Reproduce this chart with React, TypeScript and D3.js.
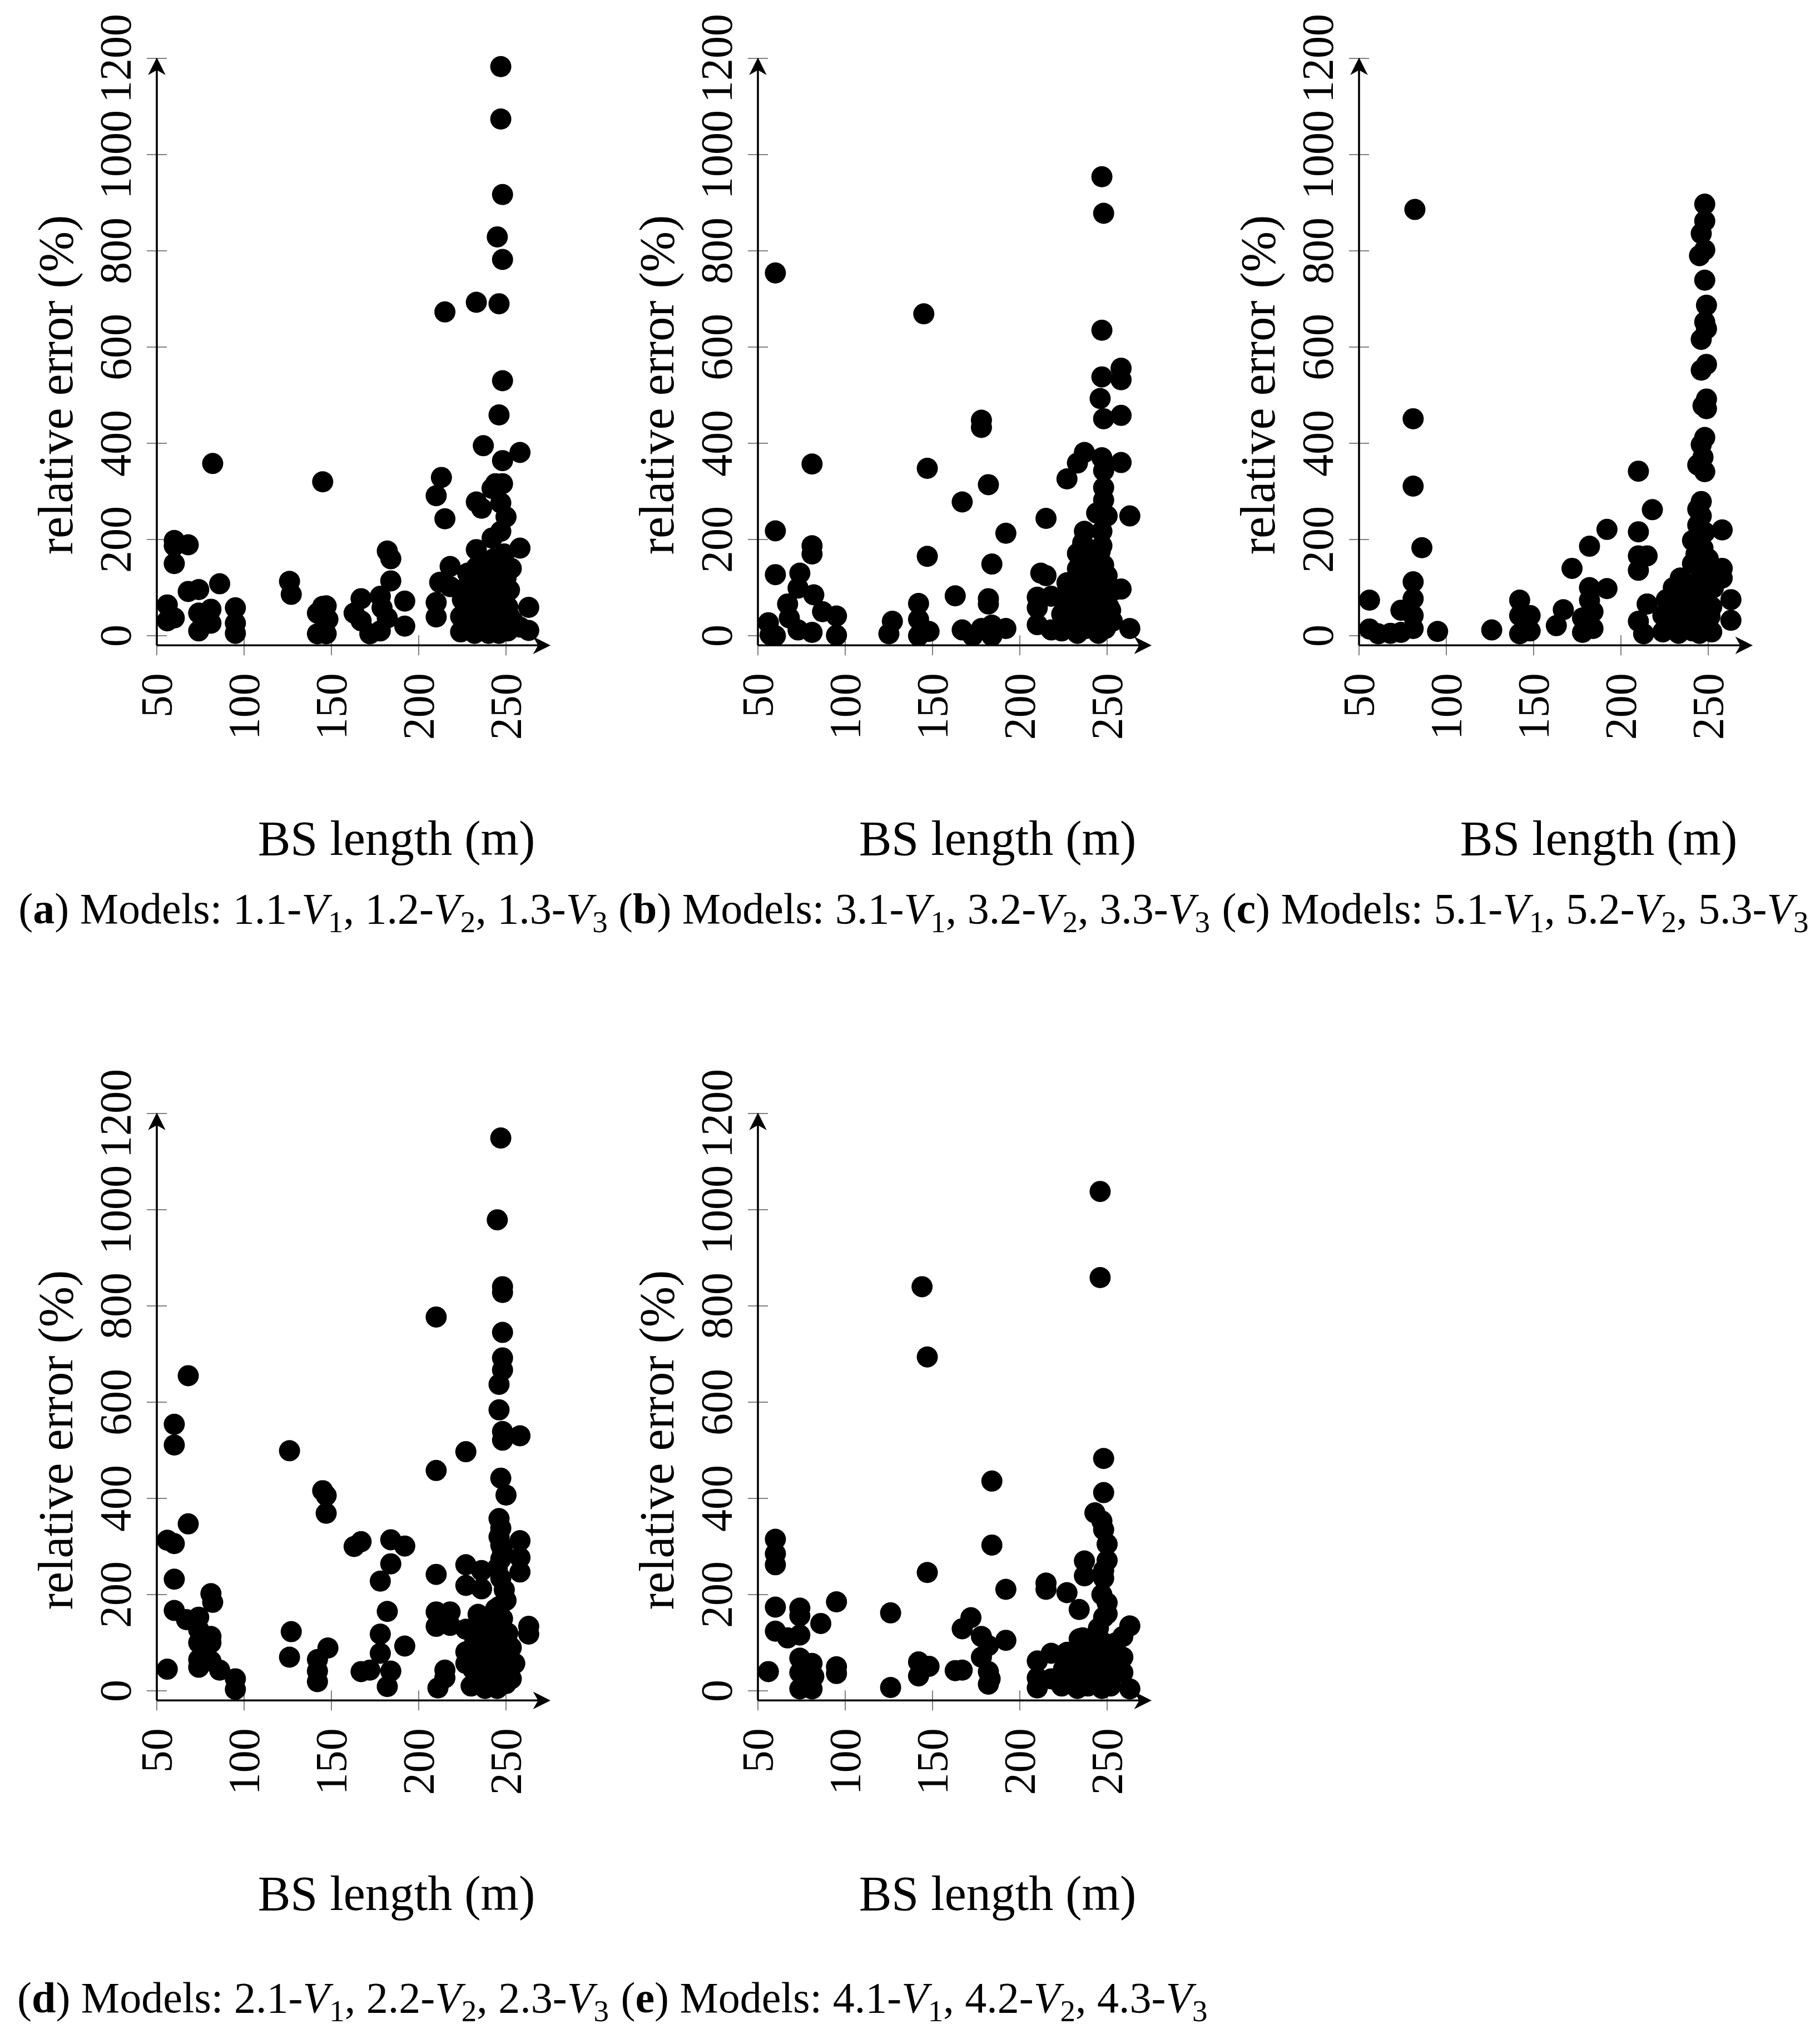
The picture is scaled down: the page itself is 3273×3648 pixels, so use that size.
import * as d3 from 'd3'

type Pt = [number, number]

const X_TICKS = [50, 100, 150, 200, 250]
const Y_TICKS = [0, 200, 400, 600, 800, 1000, 1200]
const X_LABEL = 'BS length (m)'
const Y_LABEL = 'relative error (%)'
const FONT = '"Liberation Serif", "Times New Roman", serif'

// (a) models 1.x
const panelA: Pt[] = [
  [247, 1183], [247, 1074], [248, 917], [245, 829], [248, 782], [233, 693], [246, 690], [215, 673],
  [248, 530], [246, 459], [237, 395], [258, 381], [248, 364], [82, 358], [145, 320], [213, 329],
  [210, 291], [244, 316], [248, 316], [242, 306], [233, 278], [236, 265], [247, 276], [250, 247],
  [215, 243], [242, 203], [247, 217], [258, 182], [60, 198], [60, 187], [60, 150], [68, 189],
  [182, 176], [184, 160], [218, 144], [233, 179], [233, 142], [126, 113], [127, 86], [86, 108],
  [68, 92], [74, 96], [212, 111], [218, 102], [184, 114], [178, 82], [167, 77], [192, 72],
  [56, 64], [56, 31], [60, 37], [81, 55], [81, 26], [74, 10], [74, 47], [95, 58], [95, 26], [95, 5],
  [145, 61], [147, 62], [148, 34], [147, 4], [142, 4], [142, 47], [163, 47], [167, 31], [172, 4],
  [178, 10], [182, 37], [192, 20], [179, 58], [210, 69], [210, 39], [263, 59], [263, 11], [258, 18],
  [224, 8], [224, 40], [225, 75], [228, 20], [229, 55], [230, 90], [232, 5], [233, 115], [234, 35],
  [235, 70], [236, 150], [238, 12], [238, 100], [239, 50], [240, 130], [241, 80], [242, 25],
  [243, 160], [244, 110], [245, 55], [246, 5], [246, 140], [247, 85], [248, 35], [249, 170],
  [250, 120], [251, 60], [251, 10], [252, 95], [253, 140], [254, 30],
  [227, 100], [231, 30], [237, 125], [240, 5], [243, 65], [249, 145], [252, 40], [228, 130],
]

// (b) models 3.x
const panelB: Pt[] = [
  [247, 954], [248, 878], [60, 754], [145, 669], [247, 635], [258, 556], [258, 532], [247, 538],
  [246, 493], [258, 458], [248, 451], [178, 448], [178, 433], [81, 357], [147, 348], [237, 381],
  [233, 359], [227, 326], [247, 370], [248, 343], [258, 360], [182, 314], [167, 278], [248, 308],
  [248, 282], [244, 255], [250, 249], [263, 249], [215, 244], [60, 218], [192, 213], [237, 217],
  [247, 217], [247, 187], [233, 171], [236, 193], [81, 187], [81, 170], [147, 165], [184, 149],
  [60, 127], [74, 130], [212, 130], [215, 125], [233, 139], [246, 150], [248, 147],
  [73, 99], [67, 66], [82, 85], [87, 50], [95, 41], [95, 1], [73, 12], [81, 7], [68, 37], [56, 27],
  [57, 2], [60, 0], [163, 83], [182, 77], [182, 66], [142, 67], [142, 34], [142, 0], [148, 9],
  [127, 30], [125, 4], [167, 12], [173, 0], [178, 15], [184, 22], [192, 15], [184, 0], [210, 80],
  [218, 82], [210, 23], [218, 12], [210, 58], [258, 97], [252, 53], [263, 15],
  [224, 10], [224, 45], [226, 80], [228, 25], [230, 60], [231, 105], [233, 5], [234, 40],
  [235, 120], [236, 85], [238, 15], [239, 55], [240, 100], [242, 30], [243, 130], [244, 70],
  [245, 5], [246, 110], [247, 40], [248, 90], [249, 15], [250, 125], [251, 60], [253, 30], [254, 95],
  [227, 110], [233, 70], [238, 160], [241, 75], [246, 175], [250, 30],
]

// (c) models 5.x
const panelC: Pt[] = [
  [82, 886], [248, 897], [248, 862], [246, 836], [248, 802], [245, 790], [248, 739], [249, 687],
  [248, 652], [249, 638], [246, 616], [249, 564], [246, 552], [249, 492], [247, 478], [249, 472],
  [248, 412], [81, 451], [246, 397], [247, 371], [244, 355], [248, 341], [210, 342], [81, 311],
  [246, 279], [246, 249], [244, 263], [218, 262], [192, 221], [210, 216], [258, 220], [182, 186],
  [86, 183], [241, 198], [247, 182], [210, 166], [215, 166], [210, 136], [172, 140], [258, 140],
  [258, 120], [241, 150], [235, 115], [81, 112], [182, 100], [192, 98], [56, 74], [81, 77],
  [74, 53], [81, 42], [81, 15], [74, 7], [142, 74], [142, 42], [148, 42], [148, 10], [142, 4],
  [167, 54], [163, 21], [182, 74], [184, 50], [178, 37], [178, 7], [184, 15], [215, 66], [210, 30],
  [213, 4], [263, 75], [263, 32], [56, 14], [61, 4], [68, 5], [95, 9], [126, 12],
  [244, 230], [248, 215], [243, 170], [250, 160], [246, 130],
  [224, 8], [224, 42], [226, 75], [228, 22], [230, 100], [231, 55], [233, 5], [234, 120],
  [235, 35], [236, 80], [238, 15], [239, 60], [240, 105], [242, 30], [243, 90], [245, 5],
  [246, 50], [247, 110], [248, 20], [249, 75], [251, 40], [252, 8], [253, 100],
  [229, 60], [237, 95], [241, 10], [244, 45], [250, 130], [252, 60],
]

// (d) models 2.x
const panelD: Pt[] = [
  [247, 1149], [245, 979], [248, 840], [248, 828], [210, 777], [248, 745], [248, 692], [248, 667],
  [246, 637], [68, 655], [246, 584], [60, 554], [60, 511], [248, 539], [248, 521], [258, 530],
  [126, 499], [227, 497], [210, 458], [247, 442], [250, 407], [145, 416], [147, 406], [147, 369],
  [68, 347], [246, 358], [247, 338], [56, 313], [60, 306], [167, 310], [163, 300], [184, 314],
  [192, 301], [258, 312], [258, 277], [258, 247], [184, 264], [227, 262], [227, 219], [236, 250],
  [236, 212], [247, 303], [247, 274], [247, 234], [250, 188], [60, 232], [178, 228], [210, 242],
  [81, 202], [82, 184], [60, 167], [67, 148], [74, 153], [182, 165], [210, 164], [218, 164],
  [210, 134], [218, 136], [227, 128], [234, 159], [234, 140], [74, 127], [81, 113], [74, 100],
  [81, 100], [127, 123], [126, 70], [178, 118], [178, 78], [192, 93], [263, 134], [263, 118],
  [56, 45], [74, 65], [81, 62], [74, 49], [86, 43], [95, 25], [95, 3], [148, 89], [142, 65],
  [142, 41], [142, 19], [167, 40], [172, 43], [184, 41], [182, 9], [215, 43], [215, 27], [211, 6],
  [227, 81], [227, 57], [255, 57], [246, 320], [248, 290], [245, 255], [249, 210], [246, 175],
  [230, 10], [231, 45], [232, 100], [234, 25], [235, 70], [236, 120], [238, 5], [239, 50],
  [240, 90], [242, 20], [243, 140], [244, 65], [245, 5], [246, 105], [247, 35], [248, 150],
  [249, 80], [250, 15], [251, 120], [252, 50], [253, 90],
  [233, 85], [237, 30], [241, 115], [244, 170], [250, 60], [253, 25],
]

// (e) models 4.x
const panelE: Pt[] = [
  [246, 1038], [246, 859], [144, 840], [147, 694], [248, 483], [184, 436], [248, 412], [243, 370],
  [247, 353], [248, 335], [250, 305], [250, 271], [248, 234], [184, 303], [60, 315], [60, 285],
  [60, 262], [147, 246], [237, 270], [237, 239], [248, 250], [215, 224], [215, 211], [192, 211],
  [227, 204], [60, 174], [74, 172], [74, 156], [95, 185], [126, 162], [234, 169], [250, 183],
  [248, 153], [263, 135], [259, 113], [172, 152], [167, 129], [86, 140], [60, 124], [67, 110],
  [74, 116], [178, 113], [182, 94], [192, 105], [178, 70], [74, 68], [81, 57], [74, 38], [82, 30],
  [74, 4], [81, 4], [95, 50], [95, 36], [56, 40], [126, 7], [142, 60], [148, 51], [142, 31],
  [163, 42], [167, 43], [182, 40], [183, 25], [182, 14], [218, 78], [210, 62], [210, 27], [210, 6],
  [218, 25], [234, 108], [259, 70], [259, 38], [263, 4],
  [224, 10], [225, 45], [227, 80], [229, 25], [231, 60], [233, 5], [234, 90], [236, 35],
  [238, 70], [239, 10], [241, 50], [242, 100], [243, 20], [245, 130], [246, 65], [247, 5],
  [248, 100], [249, 35], [250, 160], [251, 75], [252, 10], [254, 45], [255, 100],
  [230, 40], [236, 110], [244, 85], [247, 200], [252, 55],
]

const PANELS = [
  { letter: 'a', model: 1, data: panelA, col: 0, row: 0 },
  { letter: 'b', model: 3, data: panelB, col: 1, row: 0 },
  { letter: 'c', model: 5, data: panelC, col: 2, row: 0 },
  { letter: 'd', model: 2, data: panelD, col: 0, row: 1 },
  { letter: 'e', model: 4, data: panelE, col: 1, row: 1 },
]

const COL_STEP = 1081
const ROW_STEP = 1897
const CAPTION_Y = [1660, 3618]

function Arrow({ x, y, angle }: { x: number; y: number; angle: number }) {
  return (
    <path
      d="M0,0 L-28,-14 L-20,0 L-28,14 Z"
      transform={`translate(${x},${y}) rotate(${angle})`}
      fill="black"
      stroke="black"
      strokeWidth={1.5}
    />
  )
}

function Panel({ data, ox, oy }: { data: Pt[]; ox: number; oy: number }) {
  const x = d3.scaleLinear().domain([50, 250]).range([282 + ox, 910 + ox])
  const y = d3.scaleLinear().domain([0, 1200]).range([1143 + oy, 105 + oy])
  const x0 = x(50)
  const yBase = y(-20)
  const xTip = x(275)
  const yTip = y(1200)

  return (
    <g>
      {/* ticks, under the marks */}
      {X_TICKS.map(t => (
        <line key={`xt${t}`} x1={x(t)} x2={x(t)} y1={yBase - 18} y2={yBase + 18} stroke="#808080" strokeWidth={2} />
      ))}
      {Y_TICKS.map(t => (
        <line key={`yt${t}`} x1={x0 - 18} x2={x0 + 18} y1={y(t)} y2={y(t)} stroke="#808080" strokeWidth={2} />
      ))}

      {data.map((d, i) => (
        <circle key={i} cx={x(d[0])} cy={y(d[1])} r={19} fill="black" />
      ))}

      {/* axis lines with arrows */}
      <line x1={x0} x2={xTip - 18} y1={yBase} y2={yBase} stroke="black" strokeWidth={3.6} />
      <line x1={x0} x2={x0} y1={yBase} y2={yTip + 18} stroke="black" strokeWidth={3.6} />
      <Arrow x={xTip} y={yBase} angle={0} />
      <Arrow x={x0} y={yTip} angle={-90} />

      {X_TICKS.map(t => (
        <text
          key={`xl${t}`}
          transform={`translate(${x(t)},${yBase + 50}) rotate(-90)`}
          textAnchor="end"
          dy="0.34em"
          fontSize={80}
          fontFamily={FONT}
        >
          {t}
        </text>
      ))}
      {Y_TICKS.map(t => (
        <text
          key={`yl${t}`}
          transform={`translate(${x0 - 47},${y(t)}) rotate(-90)`}
          textAnchor="middle"
          fontSize={80}
          fontFamily={FONT}
        >
          {t}
        </text>
      ))}

      <text x={713 + ox} y={1537 + oy} textAnchor="middle" fontSize={88} fontFamily={FONT}>
        {X_LABEL}
      </text>
      <text transform={`translate(${130 + ox},${692 + oy}) rotate(-90)`} textAnchor="middle" fontSize={88} fontFamily={FONT}>
        {Y_LABEL}
      </text>
    </g>
  )
}

function Caption({ letter, model, cx, cy }: { letter: string; model: number; cx: number; cy: number }) {
  const parts: any[] = []
  ;[1, 2, 3].forEach(k => {
    parts.push(
      <tspan key={`n${k}`} dy={k > 1 ? -16 : 0}>{`${k > 1 ? ', ' : ''}${model}.${k}-`}</tspan>
    )
    parts.push(<tspan key={`v${k}`} fontStyle="italic">V</tspan>)
    parts.push(<tspan key={`s${k}`} fontSize={55} dy={16}>{k}</tspan>)
  })
  return (
    <text x={cx} y={cy} textAnchor="middle" fontSize={78} fontFamily={FONT}>
      <tspan>(</tspan>
      <tspan fontWeight="bold">{letter}</tspan>
      <tspan>) Models: </tspan>
      {parts}
    </text>
  )
}

export default function App() {
  return (
    <svg width={3273} height={3648} style={{ position: 'absolute', left: 0, top: 0, background: 'white' }}>
      <rect width={3273} height={3648} fill="white" />
      {PANELS.map(p => (
        <g key={p.letter}>
          <Panel data={p.data} ox={p.col * COL_STEP} oy={p.row * ROW_STEP} />
          <Caption letter={p.letter} model={p.model} cx={563 + p.col * COL_STEP} cy={CAPTION_Y[p.row]} />
        </g>
      ))}
    </svg>
  )
}
